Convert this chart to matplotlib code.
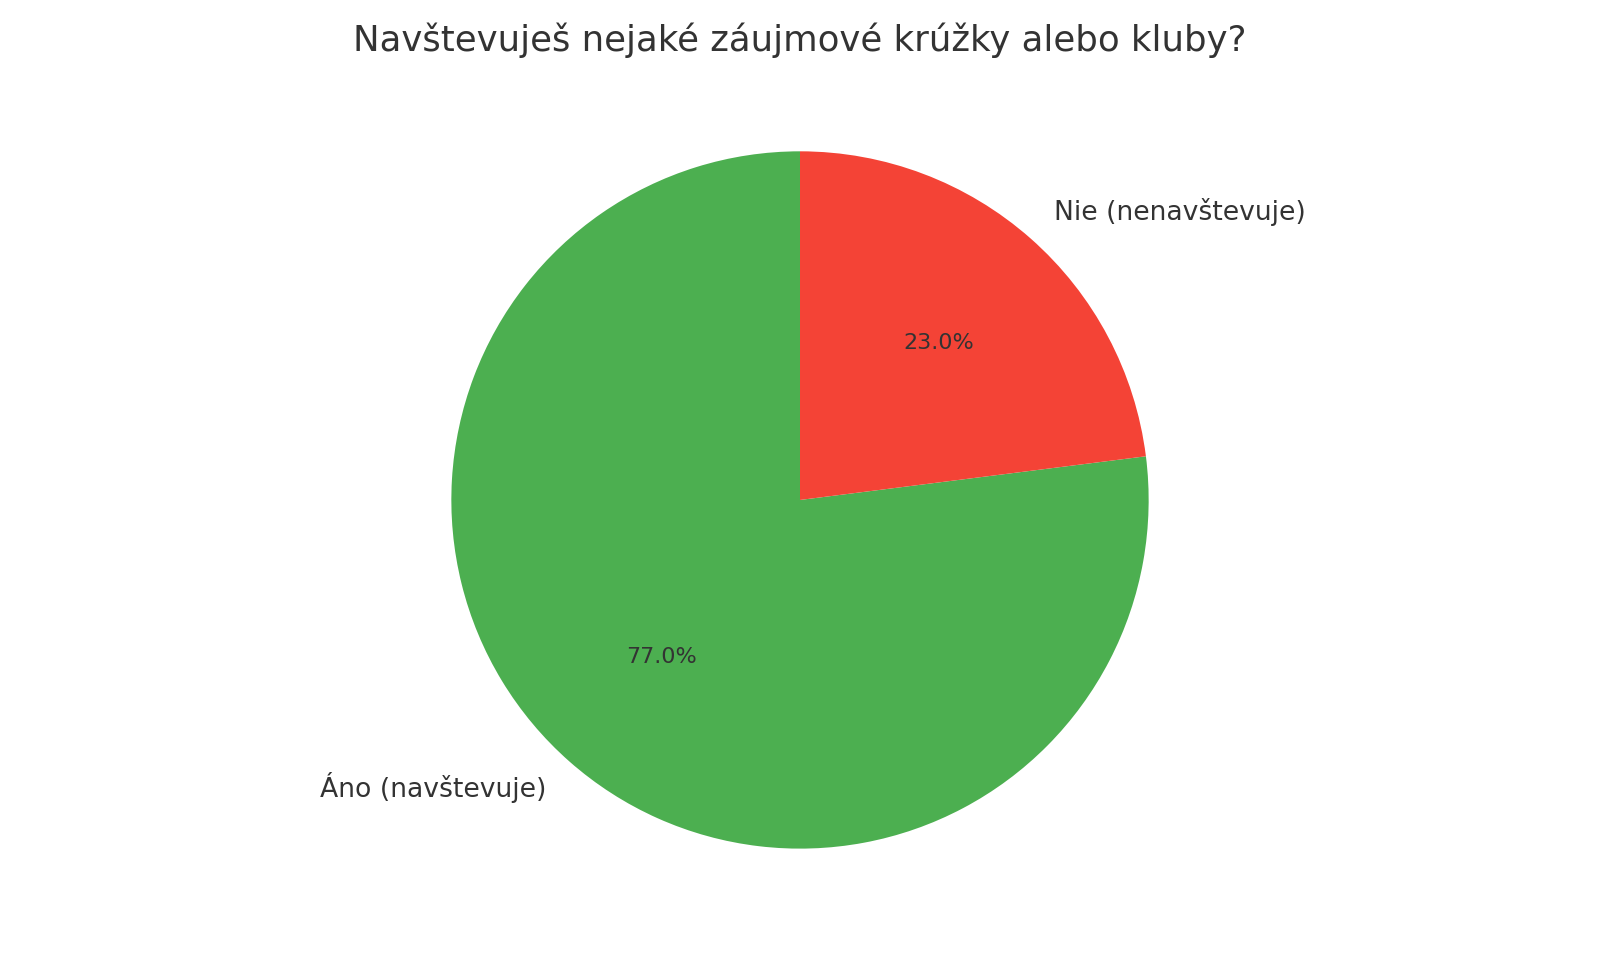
import matplotlib.pyplot as plt

labels = ["Áno (navštevuje)", "Nie (nenavštevuje)"]
values = [77, 23]
colors = ["#4CAF50", "#F44336"]

plt.rcParams['font.family'] = ['DejaVu Sans']
plt.rcParams['text.color'] = '#333333'

fig = plt.figure(figsize=(10, 6), dpi=160)
ax = fig.add_axes([0.0, 0.0797, 1.0, 0.799])

wedges, texts, autotexts = ax.pie(values, labels=labels, colors=colors,
                                  autopct='%1.1f%%', startangle=90,
                                  textprops={'fontsize': 12, 'color': '#333333'})
for t in autotexts:
    t.set_fontsize(10)
ax.axis('equal')

fig.text(0.5, 0.958, "Navštevuješ nejaké záujmové krúžky alebo kluby?",
         ha='center', va='center', fontsize=16, color='#333333')

fig.savefig("out.png", dpi=160)
